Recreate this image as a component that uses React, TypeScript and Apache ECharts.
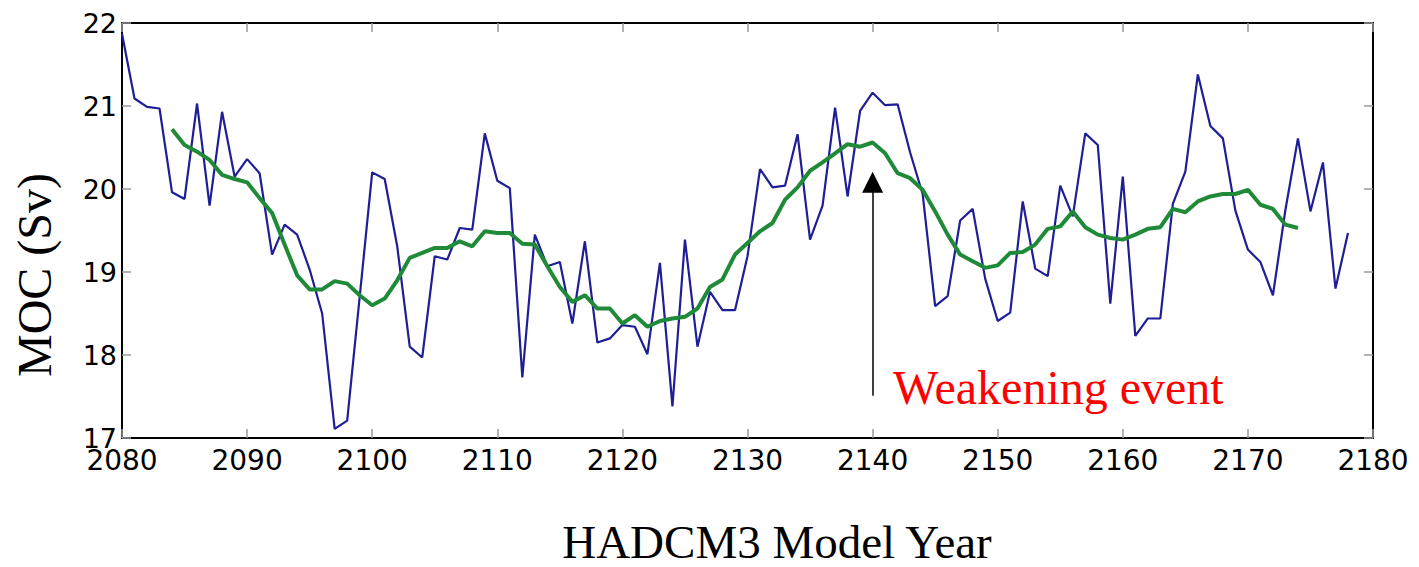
import React, { useEffect, useRef } from "react";
import * as echarts from "echarts";

// Annual MOC values (Sv), HADCM3 model years 2080..2178
const blueStartYear = 2080;
const blueValues = [
  21.87, 21.09, 20.99, 20.97, 19.96, 19.88, 21.03, 19.8, 20.93, 20.15,
  20.36, 20.19, 19.21, 19.57, 19.45, 19.03, 18.5, 17.11, 17.21, 18.7,
  20.2, 20.12, 19.31, 18.1, 17.97, 19.19, 19.15, 19.53, 19.51, 20.67,
  20.1, 20.01, 17.73, 19.45, 19.07, 19.12, 18.38, 19.37, 18.15, 18.2,
  18.36, 18.34, 18.01, 19.11, 17.38, 19.39, 18.1, 18.76, 18.54, 18.54,
  19.19, 20.24, 20.02, 20.04, 20.66, 19.39, 19.8, 20.98, 19.91, 20.94,
  21.16, 21.01, 21.02, 20.44, 19.94, 18.59, 18.71, 19.62, 19.76, 18.92,
  18.41, 18.51, 19.85, 19.04, 18.95, 20.04, 19.67, 20.67, 20.53, 18.62,
  20.15, 18.23, 18.44, 18.44, 19.82, 20.21, 21.38, 20.76, 20.61, 19.74,
  19.27, 19.12, 18.72, 19.75, 20.61, 19.73, 20.32, 18.8, 19.47,
];

// Smoothed (running mean) MOC, years 2084..2174
const greenStartYear = 2084;
const greenValues = [
  20.72, 20.53, 20.45, 20.35, 20.17, 20.12, 20.08, 19.89, 19.71, 19.33,
  18.96, 18.79, 18.79, 18.89, 18.86, 18.72, 18.6, 18.68, 18.9, 19.17,
  19.23, 19.29, 19.29, 19.37, 19.31, 19.49, 19.47, 19.47, 19.34, 19.33,
  19.07, 18.82, 18.64, 18.72, 18.56, 18.56, 18.38, 18.48, 18.34, 18.41,
  18.44, 18.46, 18.56, 18.82, 18.91, 19.21, 19.35, 19.49, 19.59, 19.87,
  20.02, 20.22, 20.32, 20.43, 20.54, 20.51, 20.56, 20.43, 20.19, 20.13,
  19.99, 19.73, 19.45, 19.21, 19.13, 19.05, 19.08, 19.23, 19.24, 19.33,
  19.52, 19.55, 19.73, 19.54, 19.45, 19.41, 19.39, 19.45, 19.52, 19.54,
  19.76, 19.72, 19.85, 19.91, 19.94, 19.94, 19.99, 19.81, 19.76, 19.57,
  19.53,
];

// Axes
const xMin = 2080;
const xMax = 2180;
const xInterval = 10;
const yMin = 17;
const yMax = 22;
const yInterval = 1;

// Annotation arrow (year, from value, to value)
const arrowYear = 2140;
const arrowFrom = 17.51;
const arrowTo = 20.08;

const yAxisTitle = "MOC (Sv)";
const xAxisTitle = "HADCM3 Model Year";
const annotationText = "Weakening event";

export default function App() {
  const ref = useRef<HTMLDivElement>(null);

  useEffect(() => {
    if (!ref.current) return;
    const chart = echarts.init(ref.current, null, { renderer: "svg" });

    const blueData = blueValues.map((v, i) => [blueStartYear + i, v]);
    const greenData = greenValues.map((v, i) => [greenStartYear + i, v]);

    const tickStyle = {
      show: true,
      inside: true,
      length: 9,
      lineStyle: { color: "#9a9a9a", width: 1.5 },
    };
    const lineStyle = { show: true, onZero: false, lineStyle: { color: "#000", width: 2 } };

    const option: any = {
      animation: false,
      backgroundColor: "#fff",
      grid: { left: 122, right: 46, top: 23, bottom: 129 },
      xAxis: [
        {
          type: "value",
          position: "bottom",
          min: xMin,
          max: xMax,
          interval: xInterval,
          axisLine: lineStyle,
          axisTick: tickStyle,
          splitLine: { show: false },
          axisLabel: {
            fontFamily: "DejaVu Sans",
            fontSize: 28,
            lineHeight: 22,
            color: "#000",
            margin: 11,
            formatter: (v: number) => String(v),
          },
        },
        {
          type: "value",
          position: "top",
          min: xMin,
          max: xMax,
          interval: xInterval,
          axisLine: lineStyle,
          axisTick: tickStyle,
          splitLine: { show: false },
          axisLabel: { show: false },
        },
      ],
      yAxis: [
        {
          type: "value",
          position: "left",
          min: yMin,
          max: yMax,
          interval: yInterval,
          axisLine: lineStyle,
          axisTick: tickStyle,
          splitLine: { show: false },
          axisLabel: {
            fontFamily: "DejaVu Sans",
            fontSize: 27,
            lineHeight: 20,
            color: "#000",
            margin: 5,
            formatter: (v: number) => String(v),
          },
        },
        {
          type: "value",
          position: "right",
          min: yMin,
          max: yMax,
          interval: yInterval,
          axisLine: lineStyle,
          axisTick: tickStyle,
          splitLine: { show: false },
          axisLabel: { show: false },
        },
      ],
      series: [
        {
          type: "line",
          xAxisIndex: 0,
          yAxisIndex: 0,
          data: blueData,
          showSymbol: false,
          symbol: "none",
          lineStyle: { color: "#1e1e96", width: 2.2 },
          itemStyle: { color: "#1e1e96" },
          z: 2,
          markLine: {
            silent: true,
            symbol: ["none", "triangle"],
            symbolSize: 21,
            label: { show: false },
            lineStyle: { color: "#000", width: 1.5, type: "solid" },
            itemStyle: { color: "#000" },
            emphasis: { disabled: true },
            data: [
              [
                { coord: [arrowYear, arrowFrom] },
                { coord: [arrowYear, arrowTo] },
              ],
            ],
          },
        },
        {
          type: "line",
          xAxisIndex: 0,
          yAxisIndex: 0,
          data: greenData,
          showSymbol: false,
          symbol: "none",
          lineStyle: { color: "#1f8a38", width: 4 },
          itemStyle: { color: "#1f8a38" },
          z: 3,
        },
      ],
      graphic: [
        {
          type: "text",
          x: 34,
          y: 275,
          rotation: Math.PI / 2,
          style: {
            text: yAxisTitle,
            fontFamily: "Liberation Serif",
            fontSize: 48,
            fill: "#000",
            align: "center",
            verticalAlign: "middle",
          },
        },
        {
          type: "text",
          x: 777,
          y: 542,
          style: {
            text: xAxisTitle,
            fontFamily: "Liberation Serif",
            fontSize: 47,
            lineHeight: 40,
            fill: "#000",
            align: "center",
            verticalAlign: "middle",
          },
        },
        {
          type: "text",
          x: 893,
          y: 387,
          style: {
            text: annotationText,
            fontFamily: "Liberation Serif",
            fontSize: 48,
            fill: "#ff0000",
            align: "left",
            verticalAlign: "middle",
          },
        },
      ],
    };

    chart.setOption(option);
    return () => chart.dispose();
  }, []);

  return (
    <div
      ref={ref}
      style={{
        position: "fixed",
        left: 0,
        top: 0,
        width: 1419,
        height: 567,
        background: "#fff",
      }}
    />
  );
}
